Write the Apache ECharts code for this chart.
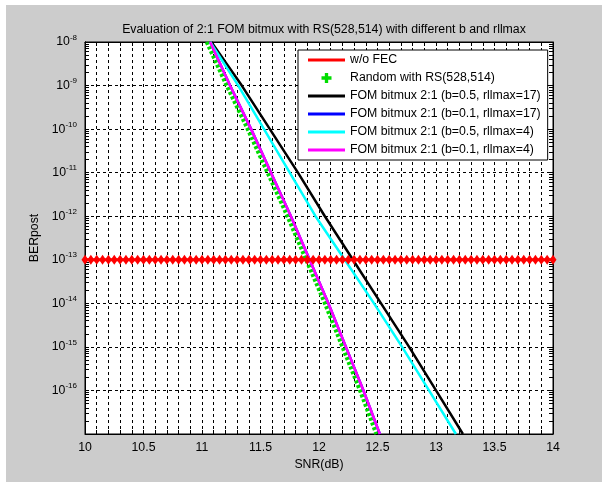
<!DOCTYPE html>
<html>
<head>
<meta charset="utf-8">
<script src="https://cdn.jsdelivr.net/npm/echarts@6/dist/echarts.min.js"></script>
<style>
html,body{margin:0;padding:0;background:#fff;}
#wrap{position:relative;width:602px;height:482px;background:#fff;}
#bg{position:absolute;left:6px;top:5px;width:596px;height:477px;background:#cccccc;}
#c{position:absolute;left:0;top:0;width:602px;height:482px;}
</style>
</head>
<body>
<div id="wrap"><div id="bg"></div><div id="c"></div></div>
<script>
// ---- data ----
const xTickLabels = [10, 10.5, 11, 11.5, 12, 12.5, 13, 13.5, 14];
const yTickExponents = [-17, -16, -15, -14, -13, -12, -11, -10, -9, -8];

const berLevels = [1e-8, 1e-9, 1e-10, 1e-11, 1e-12, 1e-13, 1e-14, 1e-15, 1e-16, 1e-17];

const woFecSNR = [10,10.05,10.1,10.15,10.2,10.25,10.3,10.35,10.4,10.45,10.5,10.55,10.6,10.65,10.7,10.75,10.8,10.85,10.9,10.95,
  11,11.05,11.1,11.15,11.2,11.25,11.3,11.35,11.4,11.45,11.5,11.55,11.6,11.65,11.7,11.75,11.8,11.85,11.9,11.95,
  12,12.05,12.1,12.15,12.2,12.25,12.3,12.35,12.4,12.45,12.5,12.55,12.6,12.65,12.7,12.75,12.8,12.85,12.9,12.95,
  13,13.05,13.1,13.15,13.2,13.25,13.3,13.35,13.4,13.45,13.5,13.55,13.6,13.65,13.7,13.75,13.8,13.85,13.9,13.95,14];
const woFecBER = 1e-13;

const randomSNR  = [11.04, 11.21, 11.39, 11.56, 11.73, 11.89, 12.05, 12.20, 12.35, 12.49];
const b05r17SNR  = [11.08, 11.34, 11.58, 11.82, 12.05, 12.29, 12.53, 12.77, 13.00, 13.23];
const b01r17SNR  = [11.07, 11.24, 11.42, 11.59, 11.76, 11.92, 12.08, 12.23, 12.38, 12.52];
const b05r4SNR   = [11.07, 11.31, 11.53, 11.75, 11.97, 12.22, 12.47, 12.71, 12.94, 13.17];
const b01r4SNR   = [11.07, 11.24, 11.42, 11.59, 11.76, 11.92, 12.08, 12.23, 12.38, 12.52];

const names = [
  'w/o FEC',
  'Random with RS(528,514)',
  'FOM bitmux 2:1 (b=0.5, rllmax=17)',
  'FOM bitmux 2:1 (b=0.1, rllmax=17)',
  'FOM bitmux 2:1 (b=0.5, rllmax=4)',
  'FOM bitmux 2:1 (b=0.1, rllmax=4)'
];

// ---- build ----
const pair = (xs, ys) => xs.map((x, i) => [x, ys[i]]);
const FONT = 'Liberation Sans, Arial, sans-serif';

// log-axis tick positions (decades + minor 2..9)
const yTickPositions = [];
for (let e = -17; e <= -8; e++) {
  yTickPositions.push(Math.pow(10, e));
  if (e < -8) for (let k = 2; k <= 9; k++) yTickPositions.push(k * Math.pow(10, e));
}

const plusPath = 'path://M3,0 H6 V3 H9 V6 H6 V9 H3 V6 H0 V3 H3 Z';
const linePath = 'path://M0,0 L37,0 L37,3 L0,3 Z';

const chart = echarts.init(document.getElementById('c'), null, {renderer: 'canvas'});

const yLabelFmt = v => {
  const e = Math.round(Math.log10(v));
  if (e === yTickExponents[0]) return '';
  return '{b|10}{s|' + e + '}';
};

const axisLineStyle = {show: true, lineStyle: {color: '#000', width: 1}};
const logBase = {type: 'log', logBase: 10, min: 1e-17, max: 1e-8, interval: 1, splitNumber: 9};

chart.setOption({
  backgroundColor: 'transparent',
  animation: false,
  title: {
    text: 'Evaluation of 2:1 FOM bitmux with RS(528,514) with different b and rllmax',
    left: 319, top: 19, textAlign: 'center',
    textStyle: {fontFamily: FONT, fontSize: 12.3, fontWeight: 'normal', color: '#000'}
  },
  grid: {left: 85, top: 42, right: 49, bottom: 48, show: true, backgroundColor: '#fff', borderColor: '#000', borderWidth: 1},
  legend: {
    orient: 'vertical', left: 298, top: 50,
    backgroundColor: '#fff', borderColor: '#000', borderWidth: 1,
    padding: [3, 7, 3, 10], itemGap: 4, itemWidth: 37, itemHeight: 10,
    textStyle: {fontFamily: FONT, fontSize: 12.3, color: '#000', lineHeight: 14},
    data: [
      {name: names[0], icon: linePath},
      {name: names[1], icon: plusPath},
      {name: names[2], icon: linePath},
      {name: names[3], icon: linePath},
      {name: names[4], icon: linePath},
      {name: names[5], icon: linePath}
    ]
  },
  xAxis: [{
    type: 'value', position: 'bottom', min: 10, max: 14, interval: 0.1,
    name: 'SNR(dB)', nameLocation: 'middle', nameGap: 24,
    nameTextStyle: {fontFamily: FONT, fontSize: 12.3, color: '#000'},
    axisLine: axisLineStyle,
    axisTick: {show: true, inside: true, length: 4, lineStyle: {color: '#000'}},
    axisLabel: {customValues: xTickLabels, fontFamily: FONT, fontSize: 12.3, color: '#000', margin: 8},
    splitLine: {show: true, lineStyle: {color: '#000', type: [3, 3], width: 1}}
  }, {
    type: 'value', position: 'top', min: 10, max: 14, interval: 0.1,
    axisLine: axisLineStyle,
    axisTick: {show: true, inside: true, length: 4, lineStyle: {color: '#000'}},
    axisLabel: {show: false}, splitLine: {show: false}
  }],
  yAxis: [Object.assign({}, logBase, {
    position: 'left',
    name: 'BERpost', nameLocation: 'middle', nameGap: 33,
    nameTextStyle: {fontFamily: FONT, fontSize: 12.3, color: '#000'},
    axisLine: axisLineStyle,
    axisTick: {show: false},
    axisLabel: {
      formatter: yLabelFmt, margin: 8,
      rich: {
        b: {fontFamily: FONT, fontSize: 12.3, color: '#000'},
        s: {fontFamily: FONT, fontSize: 8, color: '#000', verticalAlign: 'top', padding: [0, 0, 9, 0]}
      }
    },
    splitLine: {show: true, lineStyle: {color: '#000', type: [3, 3], width: 1}}
  }), Object.assign({}, logBase, {
    position: 'left',
    axisLine: axisLineStyle,
    axisTick: {show: true, inside: true, length: 4, customValues: yTickPositions, lineStyle: {color: '#000'}},
    axisLabel: {show: false}, splitLine: {show: false}
  }), Object.assign({}, logBase, {
    position: 'right',
    axisLine: axisLineStyle,
    axisTick: {show: true, inside: true, length: 4, customValues: yTickPositions, lineStyle: {color: '#000'}},
    axisLabel: {show: false}, splitLine: {show: false}
  })],
  series: [
    {
      name: names[0], type: 'line', z: 5, color: '#ff0000',
      data: woFecSNR.map(x => [x, woFecBER]),
      symbol: 'diamond', symbolSize: [7, 10], showSymbol: true,
      itemStyle: {color: '#ff0000'}, lineStyle: {color: '#ff0000', width: 3}
    },
    {
      name: names[1], type: 'line', z: 2, color: '#00dd00',
      data: pair(randomSNR, berLevels), showSymbol: false, symbol: plusPath,
      itemStyle: {color: '#00dd00'}, lineStyle: {color: '#00dd00', width: 4, type: [3, 2]}
    },
    {
      name: names[2], type: 'line', z: 2, color: '#000000',
      data: pair(b05r17SNR, berLevels), showSymbol: false,
      itemStyle: {color: '#000'}, lineStyle: {color: '#000', width: 2.5}
    },
    {
      name: names[3], type: 'line', z: 2, color: '#0000ff',
      data: pair(b01r17SNR, berLevels), showSymbol: false,
      itemStyle: {color: '#0000ff'}, lineStyle: {color: '#0000ff', width: 2.5}
    },
    {
      name: names[4], type: 'line', z: 2, color: '#00ffff',
      data: pair(b05r4SNR, berLevels), showSymbol: false,
      itemStyle: {color: '#00ffff'}, lineStyle: {color: '#00ffff', width: 2.5}
    },
    {
      name: names[5], type: 'line', z: 2, color: '#ff00ff',
      data: pair(b01r4SNR, berLevels), showSymbol: false,
      itemStyle: {color: '#ff00ff'}, lineStyle: {color: '#ff00ff', width: 2.5}
    }
  ]
});
</script>
</body>
</html>
